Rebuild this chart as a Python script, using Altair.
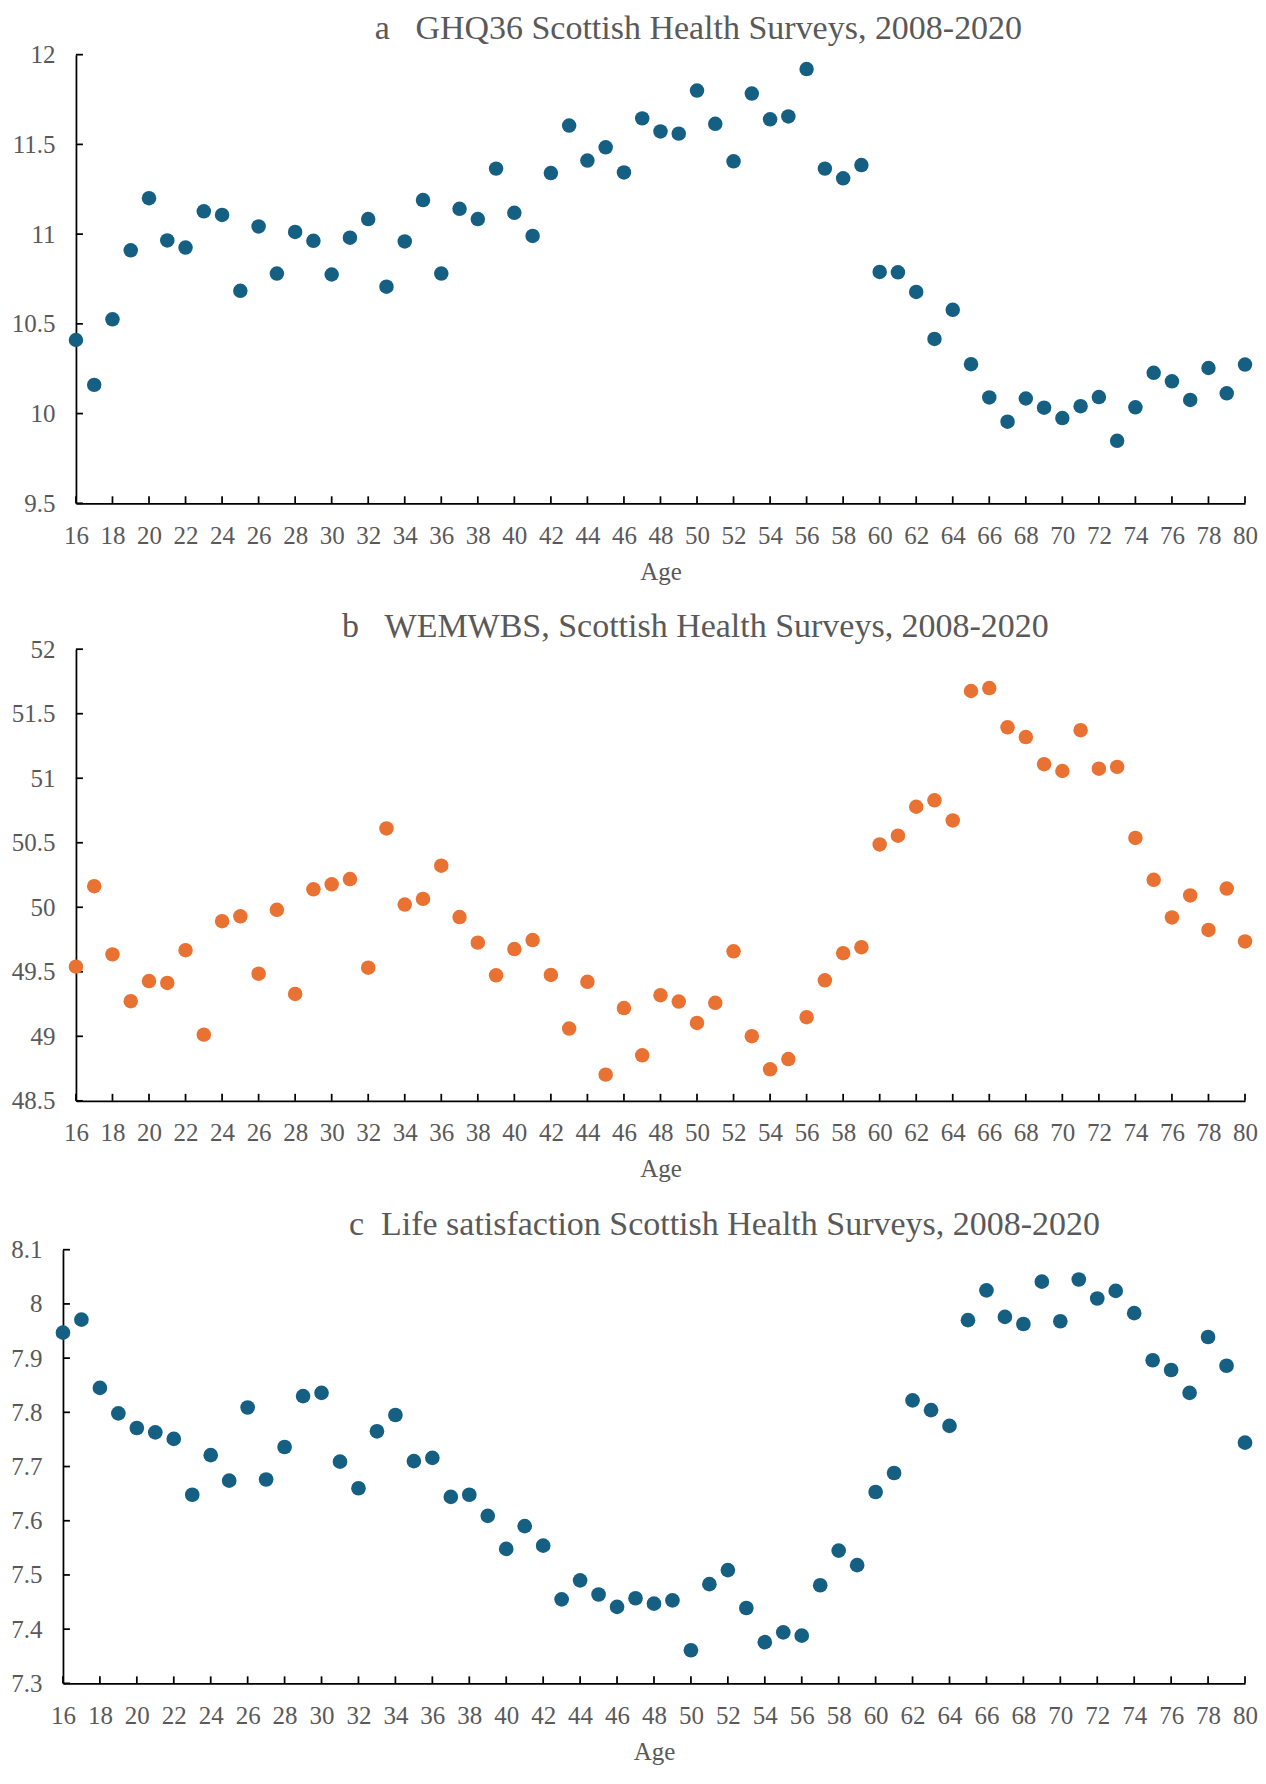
import altair as alt
import pandas as pd

ages = list(range(16, 81))

ghq36 = [10.41, 10.16, 10.525, 10.91, 11.20, 10.965, 10.925, 11.127, 11.107, 10.684,
         11.043, 10.78, 11.012, 10.963, 10.775, 10.98, 11.084, 10.707, 10.959, 11.19,
         10.78, 11.141, 11.084, 11.365, 11.119, 10.99, 11.34, 11.605, 11.41, 11.484,
         11.344, 11.645, 11.572, 11.56, 11.80, 11.615, 11.406, 11.783, 11.64, 11.656,
         11.92, 11.365, 11.311, 11.385, 10.789, 10.787, 10.678, 10.416, 10.578, 10.275,
         10.09, 9.955, 10.084, 10.033, 9.975, 10.041, 10.092, 9.848, 10.035, 10.227,
         10.18, 10.076, 10.254, 10.113, 10.273]

wemwbs = [49.54, 50.163, 49.635, 49.272, 49.428, 49.414, 49.667, 49.013, 49.892, 49.93,
          49.485, 49.98, 49.328, 50.139, 50.178, 50.219, 49.532, 50.611, 50.021, 50.065,
          50.322, 49.924, 49.726, 49.473, 49.676, 49.746, 49.476, 49.06, 49.422, 48.703,
          49.219, 48.853, 49.319, 49.269, 49.104, 49.26, 49.659, 49.001, 48.744, 48.824,
          49.148, 49.434, 49.644, 49.691, 50.487, 50.555, 50.779, 50.829, 50.673, 51.676,
          51.699, 51.395, 51.319, 51.109, 51.056, 51.372, 51.074, 51.088, 50.537, 50.213,
          49.921, 50.092, 49.824, 50.145, 49.735]

life_sat = [7.947, 7.971, 7.845, 7.798, 7.771, 7.763, 7.751, 7.648, 7.721, 7.674,
            7.809, 7.676, 7.736, 7.830, 7.836, 7.709, 7.660, 7.765, 7.795, 7.710,
            7.716, 7.644, 7.648, 7.609, 7.548, 7.590, 7.554, 7.455, 7.490, 7.464,
            7.441, 7.457, 7.447, 7.453, 7.361, 7.483, 7.509, 7.439, 7.376, 7.394,
            7.388, 7.481, 7.545, 7.518, 7.653, 7.688, 7.822, 7.804, 7.775, 7.970,
            8.025, 7.976, 7.963, 8.041, 7.968, 8.045, 8.010, 8.024, 7.983, 7.896,
            7.878, 7.836, 7.939, 7.886, 7.744]

x_ticks = [16, 18, 20, 22, 24, 26, 28, 30, 32, 34, 36, 38, 40, 42, 44, 46, 48,
           50, 52, 54, 56, 58, 60, 62, 64, 66, 68, 70, 72, 74, 76, 78, 80]
ghq_ticks = [9.5, 10, 10.5, 11, 11.5, 12]
wem_ticks = [48.5, 49, 49.5, 50, 50.5, 51, 51.5, 52]
life_ticks = [7.3, 7.4, 7.5, 7.6, 7.7, 7.8, 7.9, 8.0, 8.1]

title_a = "a\u00a0\u00a0\u00a0GHQ36 Scottish Health Surveys, 2008-2020"
title_b = "b\u00a0\u00a0\u00a0WEMWBS, Scottish Health Surveys, 2008-2020"
title_c = "c\u00a0\u00a0Life satisfaction Scottish Health Surveys, 2008-2020"

FONT = "Liberation Serif"
GREY = "#595959"
BLUE = "#156082"
ORANGE = "#E97132"
LINE_W = 1.75


def panel(values, yticks, color, title, w, h, dx, dy, toff, size, shift=0):
    df = pd.DataFrame({"Age": ages, "Value": values})
    xs = alt.Scale(domain=[16, 80], nice=False, zero=False, range=[-shift, w])
    ys = alt.Scale(domain=[yticks[0], yticks[-1]], nice=False, zero=False)
    xaxis = alt.Axis(values=x_ticks, title="Age", labelPadding=20, titlePadding=11,
                     labelFlush=False, labelOverlap=False, format="d")
    yaxis = alt.Axis(values=yticks, title=None, labelPadding=21, format="~g",
                     labelFlush=False, labelOverlap=False, offset=shift)
    pts = alt.Chart(df).mark_circle(size=size, opacity=1, color=color).encode(
        x=alt.X("Age:Q", scale=xs, axis=xaxis),
        y=alt.Y("Value:Q", scale=ys, axis=yaxis),
    )
    xt = alt.Chart(pd.DataFrame({"Age": x_ticks})).mark_rule(
        color="black", strokeWidth=LINE_W).encode(
        x=alt.X("Age:Q", scale=xs, axis=xaxis),
        y=alt.value(h),
        y2=alt.value(h - 7),
    )
    yt = alt.Chart(pd.DataFrame({"Value": yticks})).mark_rule(
        color="black", strokeWidth=LINE_W).encode(
        y=alt.Y("Value:Q", scale=ys, axis=yaxis),
        x=alt.value(-shift),
        x2=alt.value(-shift + 7),
    )
    return alt.layer(xt, yt, pts).properties(
        width=w, height=h,
        title=alt.TitleParams(
            text=title, font=FONT, fontSize=34, fontWeight="normal", color=GREY,
            anchor="middle", frame="group", dx=dx, dy=dy, baseline="alphabetic",
            offset=toff,
        ),
    )


pa = panel(ghq36, ghq_ticks, BLUE, title_a, 1170, 449, 38, 36, 6, 210)
pb = panel(wemwbs, wem_ticks, ORANGE, title_b, 1170, 452, 35, 35, 1, 210)
pc = panel(life_sat, life_ticks, BLUE, title_c, 1170, 434, 64, 35, 4, 215, shift=13)

chart = alt.vconcat(pa, pb, pc, spacing=26).properties(
    padding={"left": 2, "top": 3, "right": 0, "bottom": 0}
).configure_view(stroke=None).configure_axis(
    grid=False, ticks=False, tickSize=0, domainColor="black", domainWidth=LINE_W,
    labelFont=FONT, labelFontSize=25, labelColor=GREY,
    titleFont=FONT, titleFontSize=25, titleColor=GREY, titleFontWeight="normal",
)

chart.save("out.html", embed_options={"renderer": "svg", "actions": False})
